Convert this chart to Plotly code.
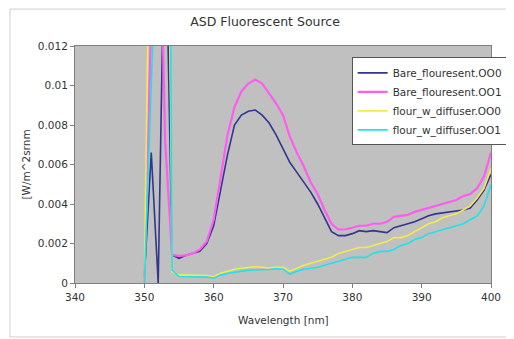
import plotly.graph_objects as go

wavelength = list(range(350, 401))

bare_0 = [0.0003, 0.0066, 0.0, 0.020, 0.00142,
          0.00125, 0.0014, 0.0015, 0.0016, 0.0020, 0.0029, 0.0047, 0.0065, 0.0080, 0.0085,
          0.0087, 0.00876, 0.0085, 0.0081, 0.0075, 0.0068, 0.0061, 0.0056, 0.0051, 0.0046,
          0.0040, 0.0033, 0.0026, 0.0024, 0.0024, 0.0025, 0.00265, 0.0026, 0.00265, 0.0026,
          0.00255, 0.0028, 0.0029, 0.0030, 0.0031, 0.00325, 0.0034, 0.0035, 0.00355, 0.0036,
          0.00365, 0.0037, 0.0038, 0.0042, 0.0047, 0.0055]

bare_1 = [0.0, 0.0135, 0.023, 0.0072, 0.00142,
          0.00137, 0.0014, 0.0015, 0.0017, 0.0021, 0.0032, 0.0053, 0.0075, 0.0089, 0.0097,
          0.0101, 0.0103, 0.0101, 0.0096, 0.0091, 0.0085, 0.0074, 0.0066, 0.0059, 0.0051,
          0.0045, 0.0037, 0.0030, 0.0027, 0.00272, 0.0028, 0.0029, 0.0029, 0.0030, 0.0030,
          0.0031, 0.00335, 0.0034, 0.00345, 0.0036, 0.0037, 0.0038, 0.0039, 0.0040, 0.0041,
          0.0042, 0.0044, 0.0045, 0.0048, 0.0054, 0.0066]

diff_0 = [0.0, 0.025, 0.030, 0.040, 0.00057,
          0.0004, 0.0004, 0.0004, 0.0004, 0.00038, 0.00032, 0.0005, 0.0006, 0.0007, 0.00075,
          0.0008, 0.00083, 0.0008, 0.00076, 0.0008, 0.0008, 0.0006, 0.00075, 0.0009, 0.0010,
          0.0011, 0.0012, 0.0013, 0.0015, 0.0016, 0.0017, 0.0018, 0.0018, 0.0019, 0.0020,
          0.0021, 0.0023, 0.0023, 0.0024, 0.0026, 0.0028, 0.0030, 0.0031, 0.0033, 0.0034,
          0.0035, 0.0037, 0.0039, 0.0043, 0.0048, 0.0058]

diff_1 = [0.0, 0.0105, 0.020, 0.060, 0.00065,
          0.00033, 0.00032, 0.00032, 0.00032, 0.0003, 0.00024, 0.0004, 0.00048, 0.00055, 0.0006,
          0.00065, 0.00066, 0.00066, 0.00068, 0.00072, 0.0007, 0.00045, 0.0006, 0.0007, 0.00076,
          0.0008, 0.0009, 0.0010, 0.0011, 0.0012, 0.0013, 0.0013, 0.0013, 0.0015, 0.0016,
          0.0016, 0.0017, 0.0019, 0.0020, 0.0022, 0.0023, 0.0025, 0.0026, 0.0027, 0.0028,
          0.0029, 0.0030, 0.0032, 0.0034, 0.0039, 0.0050]

series_names = ["Bare_flouresent.OO0", "Bare_flouresent.OO1",
                "flour_w_diffuser.OO0", "flour_w_diffuser.OO1"]
series_values = [bare_0, bare_1, diff_0, diff_1]
series_colors = ["#33358f", "#ff5cf0", "#f2ea50", "#1fe3e8"]
series_widths = [1.6, 2.2, 1.6, 1.6]

x_ticks = [340, 350, 360, 370, 380, 390, 400]
y_ticks = [0, 0.002, 0.004, 0.006, 0.008, 0.01, 0.012]

font_family = "DejaVu Sans, Verdana, sans-serif"

fig = go.Figure()
for name, vals, col, w in zip(series_names, series_values, series_colors, series_widths):
    fig.add_trace(go.Scatter(x=wavelength, y=vals, mode="lines", name=name,
                             line=dict(color=col, width=w)))

fig.update_layout(
    width=506, height=331,
    margin=dict(l=67, r=23, t=38, b=56, autoexpand=False),
    paper_bgcolor="white",
    plot_bgcolor="#c0c0c0",
    font=dict(family=font_family, size=10, color="#333333"),
    title=dict(text="ASD Fluorescent Source", x=0.508, xanchor="center",
               y=0.958, yanchor="middle", font=dict(size=12.5, color="#333333")),
    showlegend=True,
    legend=dict(x=0.665, y=0.952, xanchor="left", yanchor="top",
                bgcolor="white", bordercolor="#555555", borderwidth=1,
                font=dict(size=10.5, color="#333333"), tracegroupgap=0,
                itemwidth=30),
    xaxis=dict(range=[340, 400], tickvals=x_ticks, ticks="outside", ticklen=4,
               tickcolor="#808080", showgrid=False, zeroline=False,
               showline=True, linecolor="#808080", mirror=True,
               tickfont=dict(size=10.5)),
    yaxis=dict(range=[0, 0.012], tickvals=y_ticks, ticks="outside", ticklen=4,
               tickcolor="#808080", showgrid=False, zeroline=False,
               showline=True, linecolor="#808080", mirror=True,
               tickfont=dict(size=10.5)),
    annotations=[
        dict(text="Wavelength [nm]", xref="paper", yref="paper", x=0.5, y=-0.156,
             xanchor="center", yanchor="middle", showarrow=False,
             font=dict(size=10.5, color="#333333")),
        dict(text="[W/m^2srnm", xref="paper", yref="paper", x=-0.12, y=0.5,
             xanchor="center", yanchor="middle", showarrow=False, textangle=-90,
             font=dict(size=10.5, color="#333333")),
    ],
    shapes=[
        dict(type="rect", xref="paper", yref="paper", x0=-0.1563, x1=1.07,
             y0=-0.2278, y1=1.156, line=dict(color="#cfcfcf", width=1),
             fillcolor="rgba(0,0,0,0)", layer="below"),
    ],
)

fig.write_html("out.html")
